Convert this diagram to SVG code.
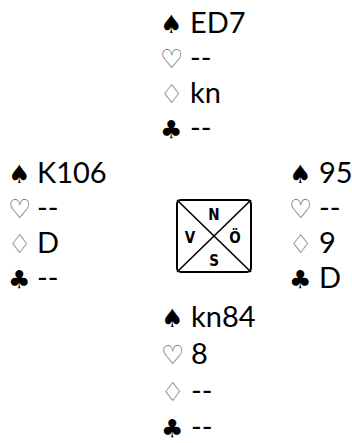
<svg xmlns="http://www.w3.org/2000/svg" width="352" height="443" viewBox="0 0 352 443">
<style>
.t{font-family:"Gill Sans","Gill Sans MT",Lato,"Liberation Sans",sans-serif;font-size:29px;fill:#000}
.s{font-family:"DejaVu Sans",sans-serif;font-size:25px;fill:#000}
.o{font-family:"DejaVu Sans",sans-serif;font-size:26px;fill:#666}
.c{font-family:"Liberation Sans Narrow","Arial Narrow","DejaVu Sans Condensed",sans-serif;font-weight:bold;font-stretch:condensed;font-size:15px;text-anchor:middle}
</style>
<rect width="352" height="443" fill="#fff"/>
<g id="north">
<text class="s" x="160" y="33">♠</text><text class="t" x="190" y="33">ED7</text>
<text class="o" x="160" y="68">♡</text><text class="t" x="190" y="68">--</text>
<text class="o" x="160" y="103">♢</text><text class="t" x="190" y="103">kn</text>
<text class="s" x="160" y="138">♣</text><text class="t" x="190" y="138">--</text>
</g>
<g id="west">
<text class="s" x="8" y="183">♠</text><text class="t" x="37" y="183">K106</text>
<text class="o" x="8" y="218">♡</text><text class="t" x="37" y="218">--</text>
<text class="o" x="8" y="253">♢</text><text class="t" x="37" y="253">D</text>
<text class="s" x="8" y="288">♣</text><text class="t" x="37" y="288">--</text>
</g>
<g id="east">
<text class="s" x="289" y="183">♠</text><text class="t" x="319" y="183">95</text>
<text class="o" x="289" y="218">♡</text><text class="t" x="319" y="218">--</text>
<text class="o" x="289" y="253">♢</text><text class="t" x="319" y="253">9</text>
<text class="s" x="289" y="288">♣</text><text class="t" x="319" y="288">D</text>
</g>
<g id="south">
<text class="s" x="161" y="327">♠</text><text class="t" x="191" y="327">kn84</text>
<text class="o" x="161" y="364">♡</text><text class="t" x="191" y="364">8</text>
<text class="o" x="161" y="401">♢</text><text class="t" x="191" y="401">--</text>
<text class="s" x="161" y="437">♣</text><text class="t" x="191" y="437">--</text>
</g>
<g id="compass">
<rect x="177" y="200" width="74" height="72" rx="4" fill="none" stroke="#000" stroke-width="2"/>
<line x1="177" y1="200" x2="251" y2="272" stroke="#000" stroke-width="1.6"/>
<line x1="251" y1="200" x2="177" y2="272" stroke="#000" stroke-width="1.6"/>
<text class="c" x="214" y="220">N</text>
<text class="c" x="214" y="266">S</text>
<text class="c" x="190" y="243">V</text>
<text class="c" x="235" y="243">Ö</text>
</g>
</svg>
